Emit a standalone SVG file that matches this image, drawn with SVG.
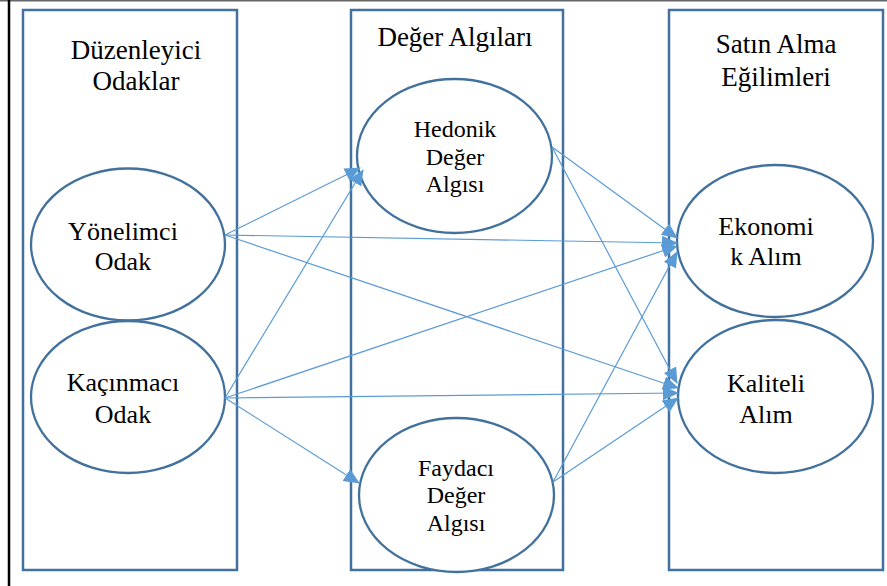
<svg xmlns="http://www.w3.org/2000/svg" width="887" height="586" viewBox="0 0 887 586">
<style>
.box{fill:none;stroke:#41719C;stroke-width:2.5}
.ell{fill:#fff;stroke:#41719C;stroke-width:2.3}
text{font-family:'Liberation Serif','Times New Roman','DejaVu Serif',serif;fill:#000;text-anchor:middle}
.h{font-size:27px}
.b{font-size:26px}
.m{font-size:24px}
.c{stroke:#5B9BD5;stroke-width:1.2;fill:none;marker-end:url(#ah)}
</style>
<defs>
<marker id="ah" markerUnits="userSpaceOnUse" markerWidth="18" markerHeight="16" refX="15" refY="7" orient="auto">
<path d="M0,0 L16,7 L0,14 Z" fill="#5B9BD5"/>
</marker>
</defs>
<rect width="887" height="586" fill="#fff"/>
<line x1="0" y1="0.8" x2="887" y2="0.8" stroke="#666" stroke-width="1.6"/>
<line x1="9" y1="0" x2="9" y2="586" stroke="#000" stroke-width="2.5"/>

<g id="col-duzenleyici">
<rect class="box" x="23" y="10" width="214" height="560"/>
<text class="h" x="136" y="59">Düzenleyici</text>
<text class="h" x="136" y="90">Odaklar</text>
</g>
<g id="col-deger">
<rect class="box" x="351" y="10" width="212" height="560"/>
<text class="h" x="455" y="46">Değer Algıları</text>
</g>
<g id="col-satin">
<rect class="box" x="669" y="10" width="214" height="560"/>
<text class="h" x="776" y="53">Satın Alma</text>
<text class="h" x="776" y="86">Eğilimleri</text>
</g>

<g id="yonelimci">
<ellipse class="ell" cx="128" cy="244.5" rx="97" ry="76"/>
<text class="b" x="123" y="240">Yönelimci</text>
<text class="b" x="123" y="270">Odak</text>
</g>
<g id="kacinmaci">
<ellipse class="ell" cx="128" cy="397" rx="97" ry="76"/>
<text class="b" x="123" y="391">Kaçınmacı</text>
<text class="b" x="123" y="423">Odak</text>
</g>
<g id="hedonik">
<ellipse class="ell" cx="454.5" cy="156" rx="97.5" ry="77"/>
<text class="m" x="455" y="137">Hedonik</text>
<text class="m" x="455" y="165">Değer</text>
<text class="m" x="455" y="192">Algısı</text>
</g>
<g id="faydaci">
<ellipse class="ell" cx="456.5" cy="495" rx="97.5" ry="77"/>
<text class="m" x="456" y="476">Faydacı</text>
<text class="m" x="456" y="503">Değer</text>
<text class="m" x="456" y="531">Algısı</text>
</g>
<g id="ekonomik">
<ellipse class="ell" cx="775" cy="241" rx="98" ry="76"/>
<text class="b" x="766" y="235">Ekonomi</text>
<text class="b" x="766" y="265">k Alım</text>
</g>
<g id="kaliteli">
<ellipse class="ell" cx="775.5" cy="396.5" rx="97.5" ry="76.5"/>
<text class="b" x="766" y="392">Kaliteli</text>
<text class="b" x="766" y="423">Alım</text>
</g>

<g id="connectors">
<line class="c" x1="225" y1="235" x2="360" y2="168"/>
<line class="c" x1="225" y1="235" x2="677" y2="243"/>
<line class="c" x1="225" y1="235" x2="678" y2="388"/>
<line class="c" x1="225" y1="398" x2="363" y2="170"/>
<line class="c" x1="225" y1="398" x2="677" y2="246"/>
<line class="c" x1="225" y1="398" x2="678" y2="393"/>
<line class="c" x1="225" y1="398" x2="359" y2="483"/>
<line class="c" x1="552" y1="147" x2="677" y2="238"/>
<line class="c" x1="552" y1="147" x2="677" y2="383"/>
<line class="c" x1="553" y1="482" x2="677" y2="252"/>
<line class="c" x1="553" y1="482" x2="678" y2="398"/>
</g>
</svg>
